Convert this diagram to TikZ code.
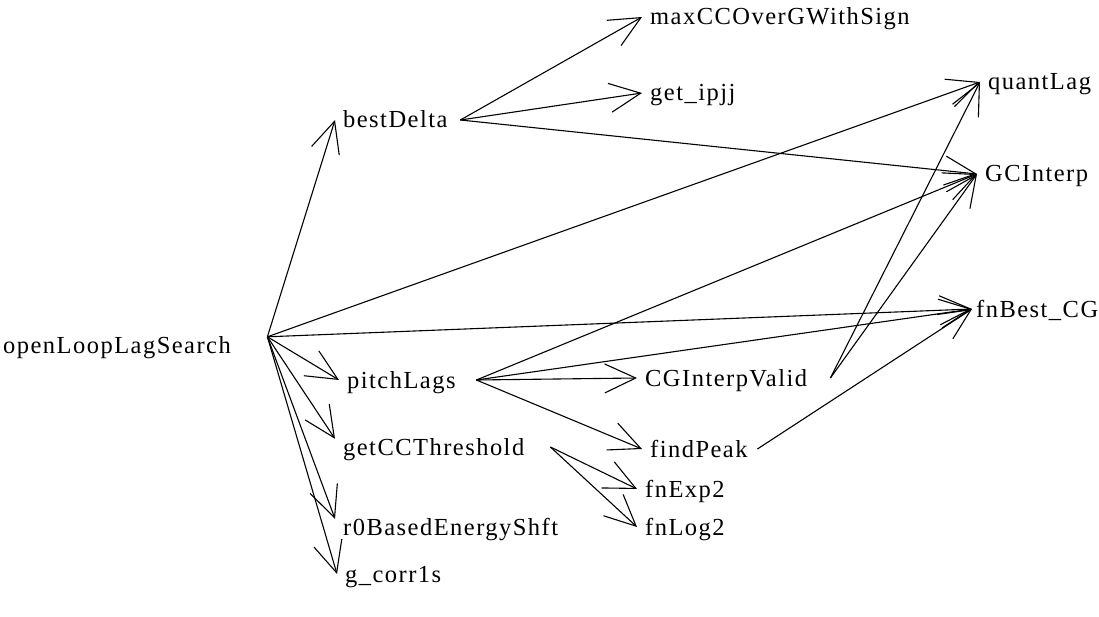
\documentclass[tikz,border=0pt]{standalone}
\usepackage{fontspec}
\setmainfont{Liberation Serif}[LetterSpace=6]
\usetikzlibrary{arrows.meta}

\begin{document}
\begin{tikzpicture}[x=1pt,y=-1pt,
	fn/.style={anchor=base west, inner xsep=8pt, inner ysep=0pt, text height=16pt, text depth=0pt, align=left, font=\fontsize{24.5}{29}\selectfont},
	call/.style={line width=1.1pt, -{Straight Barb[length=31pt,width=29pt,line width=1.1pt]}}]
	\useasboundingbox (0,0) rectangle (1099,617);

	\node[fn, text width=256pt] (olls) at (-5,353) {openLoopLagSearch};
	\node[fn, text width=109pt] (bd) at (335,128) {bestDelta};
	\node[fn] (maxcc) at (642,25) {maxCCOverGWithSign};
	\node[fn] (ipjj) at (642,101) {get\_ipjj};
	\node[fn] (ql) at (980,90) {quantLag};
	\node[fn] (gci) at (977,182) {GCInterp};
	\node[fn, inner xsep=4pt] (fnb) at (972,317) {fnBest\_CG};
	\node[fn, text width=121pt] (pl) at (339,388) {pitchLags};
	\node[fn, text width=177pt] (cgv) at (637,386) {CGInterpValid};
	\node[fn, text width=99pt] (fp) at (642,457) {findPeak};
	\node[fn, text width=199pt] (gcc) at (335,455) {getCCThreshold};
	\node[fn] (fe) at (637,497) {fnExp2};
	\node[fn] (flg) at (637,535) {fnLog2};
	\node[fn] (r0) at (335,535) {r0BasedEnergyShft};
	\node[fn] (gc1) at (337,582) {g\_corr1s};

	\foreach \a/\b in {olls.north east/bd.west, olls.north east/ql.west, olls.north east/fnb.west,
		olls.north east/pl.west, olls.north east/gcc.north west, olls.north east/r0.north west,
		olls.north east/gc1.west, bd.east/maxcc.west, bd.east/ipjj.west, bd.east/gci.west,
		pl.east/gci.west, pl.east/fnb.west, pl.east/cgv.west, pl.east/fp.west,
		cgv.east/ql.west, cgv.east/gci.west, fp.east/fnb.west, gcc.east/fe.west, gcc.east/flg.west}{
	\draw[call] (\a) -- (\b);
	}
\end{tikzpicture}
\end{document}
